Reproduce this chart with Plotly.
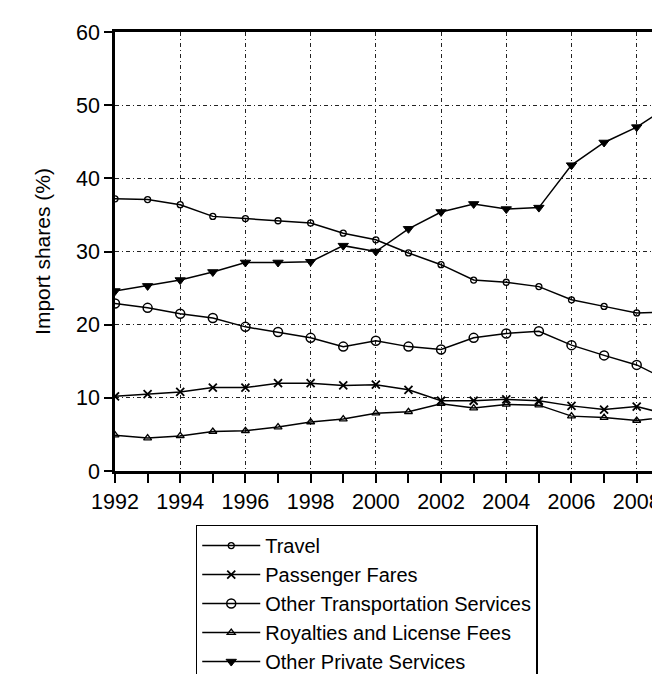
import plotly.graph_objects as go

years = list(range(1992, 2010))
travel = [37.2, 37.1, 36.4, 34.8, 34.5, 34.2, 33.9, 32.5, 31.6, 29.8, 28.2, 26.1, 25.8, 25.2, 23.4, 22.5, 21.6, 21.7]
passenger_fares = [10.2, 10.5, 10.8, 11.4, 11.4, 12.0, 12.0, 11.7, 11.8, 11.1, 9.6, 9.6, 9.8, 9.6, 8.9, 8.4, 8.8, 7.7]
other_transport = [22.9, 22.3, 21.5, 20.9, 19.7, 19.0, 18.2, 17.0, 17.8, 17.0, 16.6, 18.2, 18.8, 19.1, 17.2, 15.8, 14.5, 12.3]
royalties = [4.9, 4.5, 4.8, 5.4, 5.5, 6.0, 6.7, 7.1, 7.9, 8.1, 9.2, 8.6, 9.1, 9.0, 7.5, 7.3, 6.9, 7.4]
other_private = [24.6, 25.3, 26.1, 27.2, 28.5, 28.5, 28.6, 30.8, 30.0, 33.1, 35.4, 36.5, 35.8, 36.0, 41.8, 44.9, 47.0, 49.9]

series = [
    ("Travel", travel, dict(symbol="circle-open", size=6, color="black", line=dict(width=1.3, color="black"))),
    ("Passenger Fares", passenger_fares, dict(symbol="x-thin-open", size=8, color="black", line=dict(width=1.8, color="black"))),
    ("Other Transportation Services", other_transport, dict(symbol="circle-open", size=9, color="black", line=dict(width=1.5, color="black"))),
    ("Royalties and License Fees", royalties, dict(symbol="triangle-up-open", size=7, color="black", line=dict(width=1.3, color="black"))),
    ("Other Private Services", other_private, dict(symbol="triangle-down", size=9, color="black", line=dict(width=1, color="black"))),
]

fig = go.Figure()
for name, vals, mk in series:
    fig.add_trace(go.Scatter(x=years, y=vals, name=name, mode="lines+markers",
                             line=dict(color="black", width=1.5), marker=mk))

font = "Liberation Sans, Arial, sans-serif"
fig.update_layout(
    width=660, height=674,
    margin=dict(l=107, r=0, t=24, b=211, pad=0, autoexpand=False),
    paper_bgcolor="white", plot_bgcolor="white",
    font=dict(family=font, size=22, color="black"),
    showlegend=True,
    legend=dict(x=0.146, y=-0.122, xanchor="left", yanchor="top",
                bordercolor="black", borderwidth=1.5, bgcolor="white",
                font=dict(size=20, family=font), itemwidth=58,
                tracegroupgap=0),
)
fig.update_xaxes(range=[1992, 2008.96], dtick=2, tick0=1992,
                 showline=True, linecolor="black", linewidth=2.5, mirror=True,
                 ticks="outside", ticklen=9, tickwidth=1.5, tickcolor="black",
                 showgrid=True, gridcolor="#222222", gridwidth=1, griddash="4px,3px,1px,3px",
                 minor=dict(dtick=1, ticks="outside", ticklen=9, tickwidth=1.5, tickcolor="black", showgrid=False),
                 tickfont=dict(size=21.5), zeroline=False, automargin=False)
fig.update_yaxes(range=[0, 60], dtick=10,
                 showline=True, linecolor="black", linewidth=2.5, mirror=False,
                 ticks="outside", ticklen=8, tickwidth=1.5, tickcolor="black",
                 showgrid=True, gridcolor="#222222", gridwidth=1, griddash="4px,3px,1px,3px",
                 tickfont=dict(size=21.5), zeroline=False, automargin=False,
                 title=dict(text="Import shares (%)", font=dict(size=21), standoff=20))

fig.write_html("out.html")
